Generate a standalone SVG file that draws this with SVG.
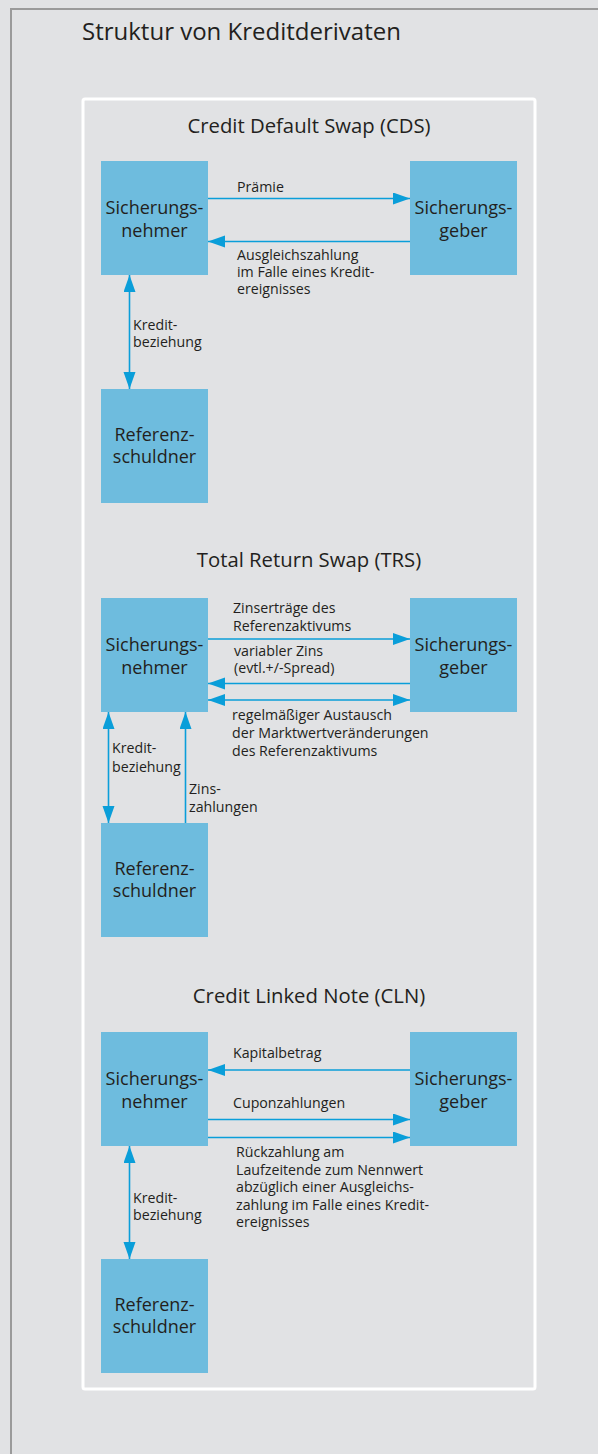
<svg xmlns="http://www.w3.org/2000/svg" width="598" height="1454" viewBox="0 0 598 1454">
  <style>
    text { font-family: "Open Sans", "Noto Sans", "Liberation Sans", sans-serif; fill: #231f20; }
    .title { font-size: 24px; }
    .sec { font-size: 20.3px; text-anchor: middle; }
    .box { fill: #6ebcde; }
    .bt { font-size: 18px; text-anchor: middle; }
    .lbl { font-size: 14.2px; }
    .arr { stroke: #0a9ed9; stroke-width: 1.6; fill: none; }
    .end { marker-end: url(#head); }
    .both { marker-start: url(#head); marker-end: url(#head); }
  </style>
  <defs>
    <marker id="head" markerUnits="userSpaceOnUse" markerWidth="18" markerHeight="13" refX="17" refY="6" orient="auto-start-reverse">
      <path d="M0,0 L17,6 L0,12 z" fill="#0a9ed9"/>
    </marker>
  </defs>

  <!-- background and frame -->
  <rect x="0" y="0" width="598" height="1454" fill="#e1e2e4"/>
  <path d="M11,1454 V9 H598" fill="none" stroke="#9a9a9a" stroke-width="2"/>
  <text class="title" x="82" y="40">Struktur von Kreditderivaten</text>
  <rect x="83" y="99" width="452" height="1290" rx="2" fill="none" stroke="#ffffff" stroke-width="3"/>

  <!-- section headings -->
  <text class="sec" x="309" y="133">Credit Default Swap (CDS)</text>
  <text class="sec" x="309" y="567">Total Return Swap (TRS)</text>
  <text class="sec" x="309" y="1003">Credit Linked Note (CLN)</text>

  <!-- Credit Default Swap -->
  <g id="cds-nehmer">
    <rect class="box" x="101" y="161" width="107" height="114"/>
    <text class="bt" x="154.5" y="214">Sicherungs-</text>
    <text class="bt" x="154.5" y="237">nehmer</text>
  </g>
  <g id="cds-geber">
    <rect class="box" x="410" y="161" width="107" height="114"/>
    <text class="bt" x="463.5" y="214">Sicherungs-</text>
    <text class="bt" x="463.5" y="237">geber</text>
  </g>
  <g id="cds-referenz">
    <rect class="box" x="101" y="389" width="107" height="114"/>
    <text class="bt" x="154.5" y="441">Referenz-</text>
    <text class="bt" x="154.5" y="463">schuldner</text>
  </g>

  <!-- Total Return Swap -->
  <g id="trs-nehmer">
    <rect class="box" x="101" y="598" width="107" height="114"/>
    <text class="bt" x="154.5" y="651">Sicherungs-</text>
    <text class="bt" x="154.5" y="674">nehmer</text>
  </g>
  <g id="trs-geber">
    <rect class="box" x="410" y="598" width="107" height="114"/>
    <text class="bt" x="463.5" y="651">Sicherungs-</text>
    <text class="bt" x="463.5" y="674">geber</text>
  </g>
  <g id="trs-referenz">
    <rect class="box" x="101" y="823" width="107" height="114"/>
    <text class="bt" x="154.5" y="875">Referenz-</text>
    <text class="bt" x="154.5" y="897">schuldner</text>
  </g>

  <!-- Credit Linked Note -->
  <g id="cln-nehmer">
    <rect class="box" x="101" y="1032" width="107" height="114"/>
    <text class="bt" x="154.5" y="1085">Sicherungs-</text>
    <text class="bt" x="154.5" y="1108">nehmer</text>
  </g>
  <g id="cln-geber">
    <rect class="box" x="410" y="1032" width="107" height="114"/>
    <text class="bt" x="463.5" y="1085">Sicherungs-</text>
    <text class="bt" x="463.5" y="1108">geber</text>
  </g>
  <g id="cln-referenz">
    <rect class="box" x="101" y="1259" width="107" height="114"/>
    <text class="bt" x="154.5" y="1311">Referenz-</text>
    <text class="bt" x="154.5" y="1333">schuldner</text>
  </g>

  <!-- connectors -->
  <g id="connectors">
    <!-- CDS -->
    <line class="arr end" x1="208" y1="198.5" x2="410" y2="198.5"/>
    <line class="arr end" x1="410" y1="241.5" x2="208" y2="241.5"/>
    <line class="arr both" x1="129.5" y1="275" x2="129.5" y2="389"/>
    <!-- TRS -->
    <line class="arr end" x1="208" y1="639" x2="410" y2="639"/>
    <line class="arr end" x1="410" y1="683.5" x2="208" y2="683.5"/>
    <line class="arr both" x1="208" y1="700" x2="410" y2="700"/>
    <line class="arr both" x1="108.5" y1="712" x2="108.5" y2="823"/>
    <line class="arr end" x1="185.5" y1="823" x2="185.5" y2="712"/>
    <!-- CLN -->
    <line class="arr end" x1="410" y1="1070" x2="208" y2="1070"/>
    <line class="arr end" x1="208" y1="1119.5" x2="410" y2="1119.5"/>
    <line class="arr end" x1="208" y1="1137.5" x2="410" y2="1137.5"/>
    <line class="arr both" x1="129.5" y1="1146" x2="129.5" y2="1259"/>
  </g>

  <!-- connector labels -->
  <g id="labels">
    <text class="lbl" x="237" y="192">Prämie</text>
    <text class="lbl" x="237" y="260">Ausgleichszahlung</text>
    <text class="lbl" x="237" y="277">im Falle eines Kredit-</text>
    <text class="lbl" x="237" y="294">ereignisses</text>
    <text class="lbl" x="133" y="330">Kredit-</text>
    <text class="lbl" x="133" y="347">beziehung</text>

    <text class="lbl" x="233" y="613">Zinserträge des</text>
    <text class="lbl" x="233" y="631">Referenzaktivums</text>
    <text class="lbl" x="234" y="656">variabler Zins</text>
    <text class="lbl" x="234" y="673">(evtl.+/-Spread)</text>
    <text class="lbl" x="232" y="720">regelmäßiger Austausch</text>
    <text class="lbl" x="232" y="737.5">der Marktwertveränderungen</text>
    <text class="lbl" x="232" y="755.5">des Referenzaktivums</text>
    <text class="lbl" x="112" y="753">Kredit-</text>
    <text class="lbl" x="112" y="771.5">beziehung</text>
    <text class="lbl" x="189" y="794">Zins-</text>
    <text class="lbl" x="189" y="811.5">zahlungen</text>

    <text class="lbl" x="233" y="1058">Kapitalbetrag</text>
    <text class="lbl" x="233" y="1108">Cuponzahlungen</text>
    <text class="lbl" x="236" y="1157">Rückzahlung am</text>
    <text class="lbl" x="236" y="1175">Laufzeitende zum Nennwert</text>
    <text class="lbl" x="236" y="1192">abzüglich einer Ausgleichs-</text>
    <text class="lbl" x="236" y="1210">zahlung im Falle eines Kredit-</text>
    <text class="lbl" x="236" y="1227">ereignisses</text>
    <text class="lbl" x="133" y="1203">Kredit-</text>
    <text class="lbl" x="133" y="1220">beziehung</text>
  </g>
</svg>
